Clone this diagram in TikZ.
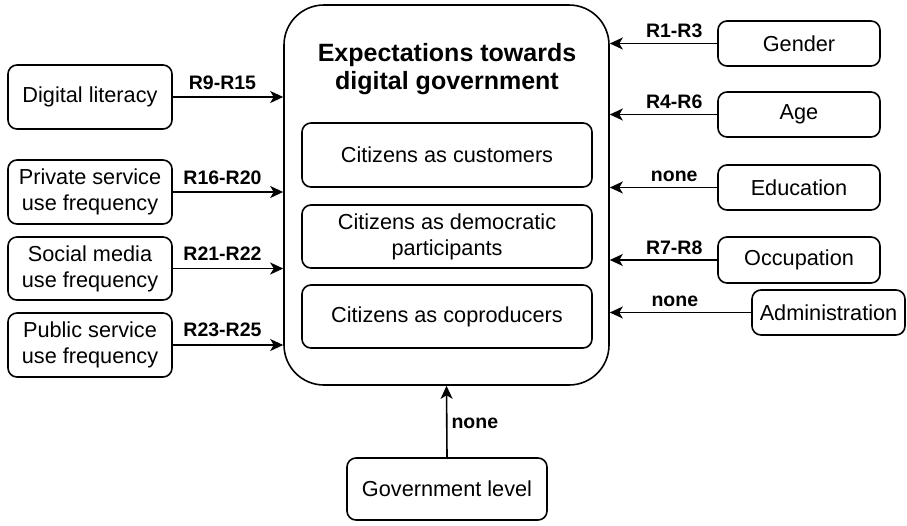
\documentclass[tikz,border=0pt]{standalone}
\usepackage{fontspec}
\setmainfont{Liberation Sans}
\usetikzlibrary{arrows.meta}
\tikzset{
  box/.style={draw, line width=1.6pt, rounded corners=9pt, align=center, inner sep=0pt,
    font=\fontsize{21.7}{26}\selectfont},
  lbl/.style={font=\bfseries\fontsize{19.5}{22}\selectfont, inner sep=1pt},
  arr/.style={line width=1.6pt, -{Stealth[length=13pt,width=12pt,inset=3.5pt]}},
}
\begin{document}
\begin{tikzpicture}[x=1pt,y=-1pt]
\useasboundingbox (0,0) rectangle (907,525);
% central box
\node[box, rounded corners=40pt, minimum width=325pt, minimum height=380pt] (big) at (446.5,195) {};
\node[font=\bfseries\fontsize{25}{28.5}\selectfont, align=center, inner sep=0pt] (title) at (447,69) {Expectations towards\\digital government};
\node[box, minimum width=290pt, minimum height=64pt] (c1) at (447,155) {Citizens as customers};
\node[box, minimum width=290pt, minimum height=63pt] (c2) at (447,236.5) {Citizens as democratic\\participants};
\node[box, minimum width=290pt, minimum height=63pt] (c3) at (447,316.5) {Citizens as coproducers};
% bottom
\node[box, minimum width=200pt, minimum height=62pt] (gov) at (447,489) {Government level};
% left
\node[box, minimum width=164pt, minimum height=64pt] (dl) at (90,97) {Digital literacy};
\node[box, minimum width=164pt, minimum height=64pt] (ps) at (90,192) {Private service\\use frequency};
\node[box, minimum width=164pt, minimum height=63pt] (sm) at (90,268.5) {Social media\\use frequency};
\node[box, minimum width=164pt, minimum height=64pt] (pu) at (90,345) {Public service\\use frequency};
% right
\node[box, minimum width=162pt, minimum height=45pt] (ge) at (799,43.5) {Gender};
\node[box, minimum width=162pt, minimum height=45pt] (ag) at (799,114.5) {Age};
\node[box, minimum width=162pt, minimum height=45pt] (ed) at (799,187.5) {Education};
\node[box, minimum width=162pt, minimum height=46pt] (oc) at (799,260) {Occupation};
\node[box, minimum width=153pt, minimum height=45pt] (ad) at (828.5,312.5) {Administration};
% left arrows
\draw[arr] (dl.east) -- node[lbl, above=6pt, pos=0.45] {R9-R15} (dl.east -| big.west);
\draw[arr] (ps.east) -- node[lbl, above=6pt, pos=0.45] {R16-R20} (ps.east -| big.west);
\draw[arr] (sm.east) -- node[lbl, above=6pt, pos=0.45] {R21-R22} (sm.east -| big.west);
\draw[arr] (pu.east) -- node[lbl, above=6pt, pos=0.45] {R23-R25} (pu.east -| big.west);
% right arrows
\draw[arr] (ge.west) -- node[lbl, above=4pt, pos=0.4] {R1-R3} (ge.west -| big.east);
\draw[arr] (ag.west) -- node[lbl, above=4pt, pos=0.4] {R4-R6} (ag.west -| big.east);
\draw[arr] (ed.west) -- node[lbl, above=4pt, pos=0.4] {none} (ed.west -| big.east);
\draw[arr] (oc.west) -- node[lbl, above=4pt, pos=0.4] {R7-R8} (oc.west -| big.east);
\draw[arr] (ad.west) -- node[lbl, above=4pt, pos=0.54] {none} (ad.west -| big.east);
% bottom arrow
\draw[arr] (gov.north) -- node[lbl, right=3pt, pos=0.48] {none} (big.south);
\end{tikzpicture}
\end{document}
